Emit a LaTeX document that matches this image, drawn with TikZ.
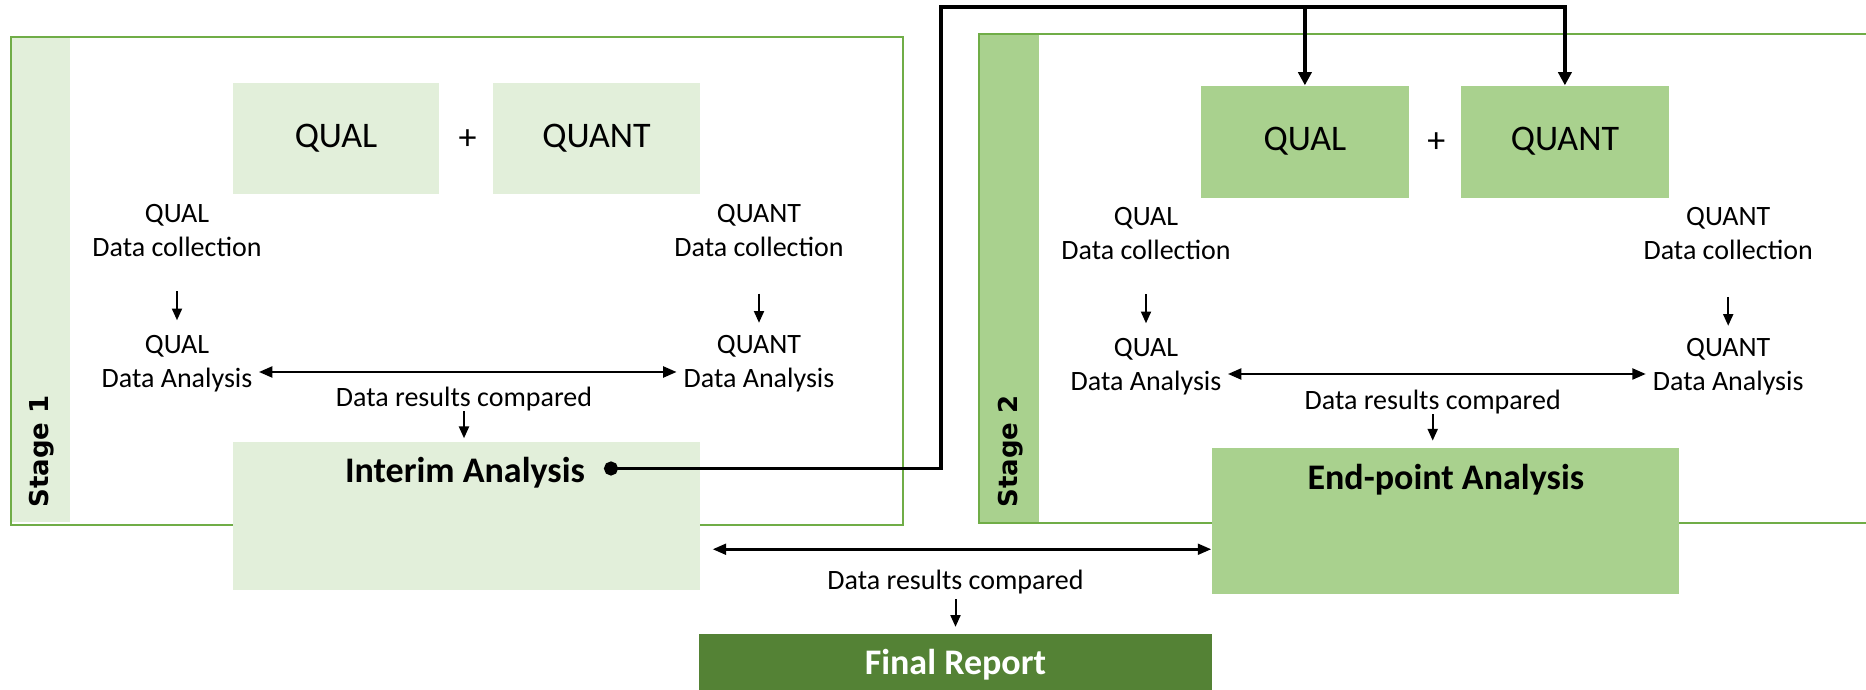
\documentclass[tikz,border=0pt]{standalone}
\usepackage{fontspec}
\setmainfont{Carlito}
\newfontfamily\stagefont{DejaVu Sans}
\usetikzlibrary{arrows.meta,calc}
\definecolor{lightg}{HTML}{E2EFDA}
\definecolor{midg}{HTML}{A9D18E}
\definecolor{darkg}{HTML}{548235}
\definecolor{frameg}{HTML}{70AD47}
\begin{document}
\begin{tikzpicture}[x=0.4pt,y=-0.4pt,
  small/.style={font=\fontsize{11.2}{13.7}\selectfont, align=center, inner sep=0pt},
  big/.style={font=\fontsize{14.4}{17}\selectfont, inner sep=0pt},
  bigb/.style={font=\fontsize{14.4}{17}\selectfont\bfseries, inner sep=0pt},
  box1/.style={fill=lightg, draw=none, inner sep=0pt},
  box2/.style={fill=midg, draw=none, inner sep=0pt},
  frame/.style={draw=frameg, line width=0.8pt},
  stagelbl/.style={font=\stagefont\bfseries\fontsize{10.4}{12}\selectfont, rotate=90, inner sep=0pt},
  arr/.style={-{Triangle[length=4.7pt,width=4pt]}, line width=0.8pt},
  dbl/.style={{Triangle[length=5.4pt,width=4.3pt]}-{Triangle[length=5.4pt,width=4.3pt]}, line width=1.1pt},
  conn/.style={line width=1.5pt, -{Triangle[length=5.3pt,width=5.3pt]}},
]
\useasboundingbox (0,0) rectangle (1866,690);
\clip (0,0) rectangle (1866,690);

% ---------- Stage 1 ----------
\node[box1, minimum width=23.7pt, minimum height=194pt] (band1) at (40.5,280) {};
\draw[frame] (10.8,37.4) rectangle (903,525);
\node[stagelbl, anchor=west] (st1) at (42,508) {Stage 1};

\node[box1, big, minimum width=82.7pt, minimum height=44.4pt] (qual1) at (336,138.2) {QUAL};
\node[big] (plus1) at (467.6,140) {+};
\node[box1, big, minimum width=82.9pt, minimum height=44.4pt] (quant1) at (596.5,138.2) {QUANT};

\node[small] (qdc1) at (177,230.6) {QUAL\\Data collection};
\node[small] (qda1) at (177,364) {QUAL\\Data Analysis};
\node[small] (ndc1) at (759,230.6) {QUANT\\Data collection};
\node[small] (nda1) at (759,364) {QUANT\\Data Analysis};
\node[small] (res1) at (464,399) {Data results compared};

\draw[arr, shorten <=13.5pt, shorten >=5.9pt] (qdc1.south) -- (qda1.north);
\draw[arr, shorten <=14.5pt, shorten >=4.9pt] (ndc1.south) -- (nda1.north);
\draw[dbl, shorten <=2.4pt, shorten >=2.6pt] ([yshift=-3.2pt]qda1.east) -- ([yshift=-3.2pt]nda1.west);

\node[box1, minimum width=187pt, minimum height=59pt] (int) at (466.4,516) {};
\node[bigb] (intlbl) at (465,472.5) {Interim Analysis};
\draw[arr, shorten >=1.4pt] (res1.south) -- (res1.south |- int.north);

% ---------- Stage 2 ----------
\node[box2, minimum width=24.1pt, minimum height=195.6pt] (band2) at (1009.2,278.4) {};
\draw[frame] (1880,33.9) -- (979,33.9) -- (979,522.9) -- (1880,522.9);
\node[stagelbl, anchor=west] (st2) at (1011,508) {Stage 2};

\node[box2, big, minimum width=83.1pt, minimum height=44.7pt] (qual2) at (1304.9,141.7) {QUAL};
\node[big] (plus2) at (1436.3,143) {+};
\node[box2, big, minimum width=82.9pt, minimum height=44.7pt] (quant2) at (1564.9,141.7) {QUANT};

\node[small] (qdc2) at (1146,233.7) {QUAL\\Data collection};
\node[small] (qda2) at (1146,367) {QUAL\\Data Analysis};
\node[small] (ndc2) at (1728.2,233.7) {QUANT\\Data collection};
\node[small] (nda2) at (1728.2,367) {QUANT\\Data Analysis};
\node[small] (res2) at (1432.7,402) {Data results compared};

\draw[arr, shorten <=13.5pt, shorten >=5.9pt] (qdc2.south) -- (qda2.north);
\draw[arr, shorten <=14.5pt, shorten >=4.9pt] (ndc2.south) -- (nda2.north);
\draw[dbl, shorten <=2.4pt, shorten >=2.6pt] ([yshift=-2.8pt]qda2.east) -- ([yshift=-2.8pt]nda2.west);

\node[box2, minimum width=187pt, minimum height=58.6pt] (ep) at (1445.5,520.9) {};
\node[bigb] (eplbl) at (1445.8,479.5) {End-point Analysis};
\draw[arr, shorten >=2.6pt] (res2.south) -- (res2.south |- ep.north);

% ---------- Interim -> Stage 2 connector ----------
\coordinate (ia) at (604,468.5);
\coordinate (jt) at (940.7,7);
\draw[conn, {Circle[length=5.6pt]}-{Triangle[length=5.3pt,width=5.3pt]}] (ia) -| (jt) -| (quant2.north);
\draw[conn] (jt -| qual2.north) -- (qual2.north);

% ---------- Final ----------
\coordinate (da) at ([xshift=4.8pt,yshift=-13.3pt]int.east);
\draw[dbl] (da) -- (da -| ep.west);
\node[small] (res3) at (955.5,582.5) {Data results compared};
\node[bigb, fill=darkg, text=white, minimum width=205.1pt, minimum height=24.7pt] (final) at (955.4,664.7) {Final Report};
\draw[arr, shorten <=1.7pt, shorten >=2.6pt] (res3.south) -- (res3.south |- final.north);
\end{tikzpicture}
\end{document}
